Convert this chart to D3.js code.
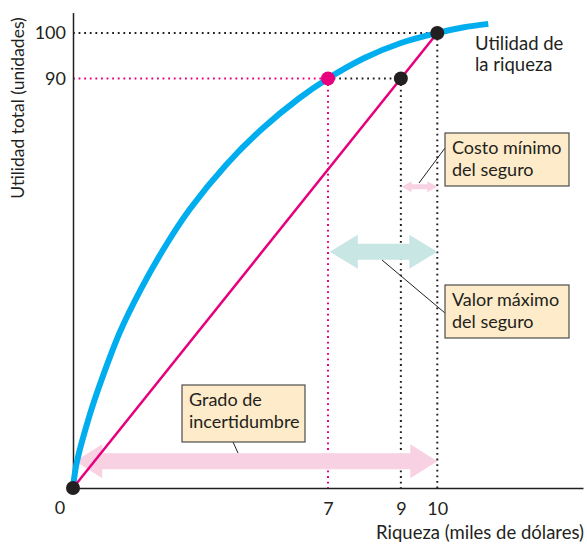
<!DOCTYPE html>
<html>
<head>
<meta charset="utf-8">
<script src="https://cdn.jsdelivr.net/npm/d3@7"></script>
<style>
  body { margin: 0; background: #fff; }
  text { font-family: Lato, "Open Sans", sans-serif; fill: #231f20; }
</style>
</head>
<body>
<div id="chart"></div>
<script>
// Data
var wealth  = [0, 0.1, 0.4, 0.75, 1.3, 1.85, 2.5, 3.2, 4.2, 5.2, 6.2, 7, 8, 9, 10, 10.7, 11.4];
var utility = [0, 5.5, 14.5, 23, 34.5, 43.5, 52.7, 61.2, 71, 79, 85.6, 90, 94.5, 97.8, 100, 101.2, 102];

var lineX = [0, 10];        // straight line between certain outcomes
var lineY = [0, 100];

var xTicks = [7, 9, 10];
var yTicks = [90, 100];

var svgWidth = 587;
var svgHeight = 544;
var margin = { top: 12.5, right: 4, bottom: 56, left: 73 };
var width = svgWidth - margin.left - margin.right;
var height = svgHeight - margin.top - margin.bottom;

var pink = "#e6007e";
var blue = "#00aeef";
var dark = "#231f20";

var svg = d3.select("#chart")
    .append("svg")
    .attr("width", svgWidth)
    .attr("height", svgHeight);

var chart = svg.append("g")
    .attr("transform", `translate(${margin.left}, ${margin.top})`);

var x = d3.scaleLinear().domain([0, 14]).range([0, width]);
var y = d3.scaleLinear().domain([0, 104.5]).range([height, 0]);

// dotted guide lines
function guide(x1, y1, x2, y2, color) {
    chart.append("line")
        .attr("x1", x(x1)).attr("y1", y(y1))
        .attr("x2", x(x2)).attr("y2", y(y2))
        .attr("stroke", color)
        .attr("stroke-width", 2)
        .attr("stroke-dasharray", "1.8,3.8");
}
guide(0, 100, 10, 100, dark);
guide(10, 100, 10, 0, dark);
guide(0, 90, 7, 90, pink);
guide(7, 90, 7, 0, pink);
guide(7, 90, 9, 90, dark);
guide(9, 90, 9, 0, dark);

// double headed arrows (x in data units, y in data units, sizes in px)
function arrow(xa, xb, yv, shaft, head, headLen, color) {
    var x1 = x(xa), x2 = x(xb), yc = y(yv);
    var pts = [
        [x1, yc],
        [x1 + headLen, yc - head / 2],
        [x1 + headLen, yc - shaft / 2],
        [x2 - headLen, yc - shaft / 2],
        [x2 - headLen, yc - head / 2],
        [x2, yc],
        [x2 - headLen, yc + head / 2],
        [x2 - headLen, yc + shaft / 2],
        [x1 + headLen, yc + shaft / 2],
        [x1 + headLen, yc + head / 2]
    ];
    chart.append("polygon")
        .attr("points", pts.map(p => p.join(",")).join(" "))
        .attr("fill", color);
}
arrow(0.06, 10, 5.9, 16, 34, 27, "#f8d1e3");
arrow(7.05, 10, 51.9, 16, 34, 28, "#c8e6e3");
arrow(9.02, 10, 66.2, 5, 11, 10, "#f8d1e3");

// axes
var xAxis = d3.axisBottom(x).tickValues(xTicks).tickSize(0).tickSizeOuter(0).tickPadding(14);
var yAxis = d3.axisLeft(y).tickValues(yTicks).tickSize(0).tickSizeOuter(0).tickPadding(7);

var gx = chart.append("g")
    .attr("transform", `translate(0, ${height})`)
    .call(xAxis);
var gy = chart.append("g").call(yAxis);

[gx, gy].forEach(function(g) {
    g.select(".domain").attr("stroke", dark).attr("stroke-width", 1.5);
    g.selectAll("text")
        .style("font-family", "Lato, sans-serif")
        .style("font-size", "18px")
        .attr("fill", d => (d === 7 || d === 90) ? pink : dark);
});

chart.append("text")
    .attr("x", x(0) - 13)
    .attr("y", height + 26)
    .attr("text-anchor", "middle")
    .style("font-size", "18px")
    .text("0");

// curves
var curve = d3.line()
    .x(d => x(d[0]))
    .y(d => y(d[1]))
    .curve(d3.curveCatmullRom.alpha(0.5));

chart.append("path")
    .datum(wealth.map((w, i) => [w, utility[i]]))
    .attr("d", curve)
    .attr("fill", "none")
    .attr("stroke", blue)
    .attr("stroke-width", 6);

chart.append("path")
    .datum(lineX.map((w, i) => [w, lineY[i]]))
    .attr("d", d3.line().x(d => x(d[0])).y(d => y(d[1])))
    .attr("fill", "none")
    .attr("stroke", pink)
    .attr("stroke-width", 2.5);

// points
var dots = [
    { w: 0, u: 0, c: dark },
    { w: 9, u: 90, c: dark },
    { w: 10, u: 100, c: dark },
    { w: 7, u: 90, c: pink }
];
chart.selectAll("circle.pt").data(dots).enter()
    .append("circle")
    .attr("class", "pt")
    .attr("cx", d => x(d.w))
    .attr("cy", d => y(d.u))
    .attr("r", 7)
    .attr("fill", d => d.c);

// axis titles
svg.append("text")
    .attr("transform", "translate(24, 108) rotate(-90)")
    .attr("text-anchor", "middle")
    .style("font-size", "17.5px")
    .text("Utilidad total (unidades)");

svg.append("text")
    .attr("x", 584)
    .attr("y", 539)
    .attr("text-anchor", "end")
    .style("font-size", "18.5px")
    .text("Riqueza (miles de dólares)");

// curve label
var curveLabel = svg.append("text")
    .attr("x", 475)
    .style("font-size", "18.5px");
curveLabel.append("tspan").attr("x", 475).attr("y", 50).text("Utilidad de");
curveLabel.append("tspan").attr("x", 475).attr("y", 71).text("la riqueza");

// callout boxes with leader lines (pixel layout)
var callouts = [
    { box: [445, 133, 124, 53], lines: ["Costo mínimo", "del seguro"], lead: [445, 148, 419, 183] },
    { box: [445, 285, 124, 53], lines: ["Valor máximo", "del seguro"], lead: [445, 313, 382, 260] },
    { box: [182, 385, 123, 57], lines: ["Grado de", "incertidumbre"], lead: [233, 442, 238, 453] }
];

callouts.forEach(function(c) {
    svg.append("line")
        .attr("x1", c.lead[0]).attr("y1", c.lead[1])
        .attr("x2", c.lead[2]).attr("y2", c.lead[3])
        .attr("stroke", dark)
        .attr("stroke-width", 1);
    svg.append("rect")
        .attr("x", c.box[0]).attr("y", c.box[1])
        .attr("width", c.box[2]).attr("height", c.box[3])
        .attr("fill", "#fdebc9")
        .attr("stroke", "#4d4d4d")
        .attr("stroke-width", 1.2);
    var t = svg.append("text").style("font-size", "18px");
    c.lines.forEach(function(s, i) {
        t.append("tspan")
            .attr("x", c.box[0] + 7)
            .attr("y", c.box[1] + 21 + i * 22)
            .text(s);
    });
});
</script>
</body>
</html>
